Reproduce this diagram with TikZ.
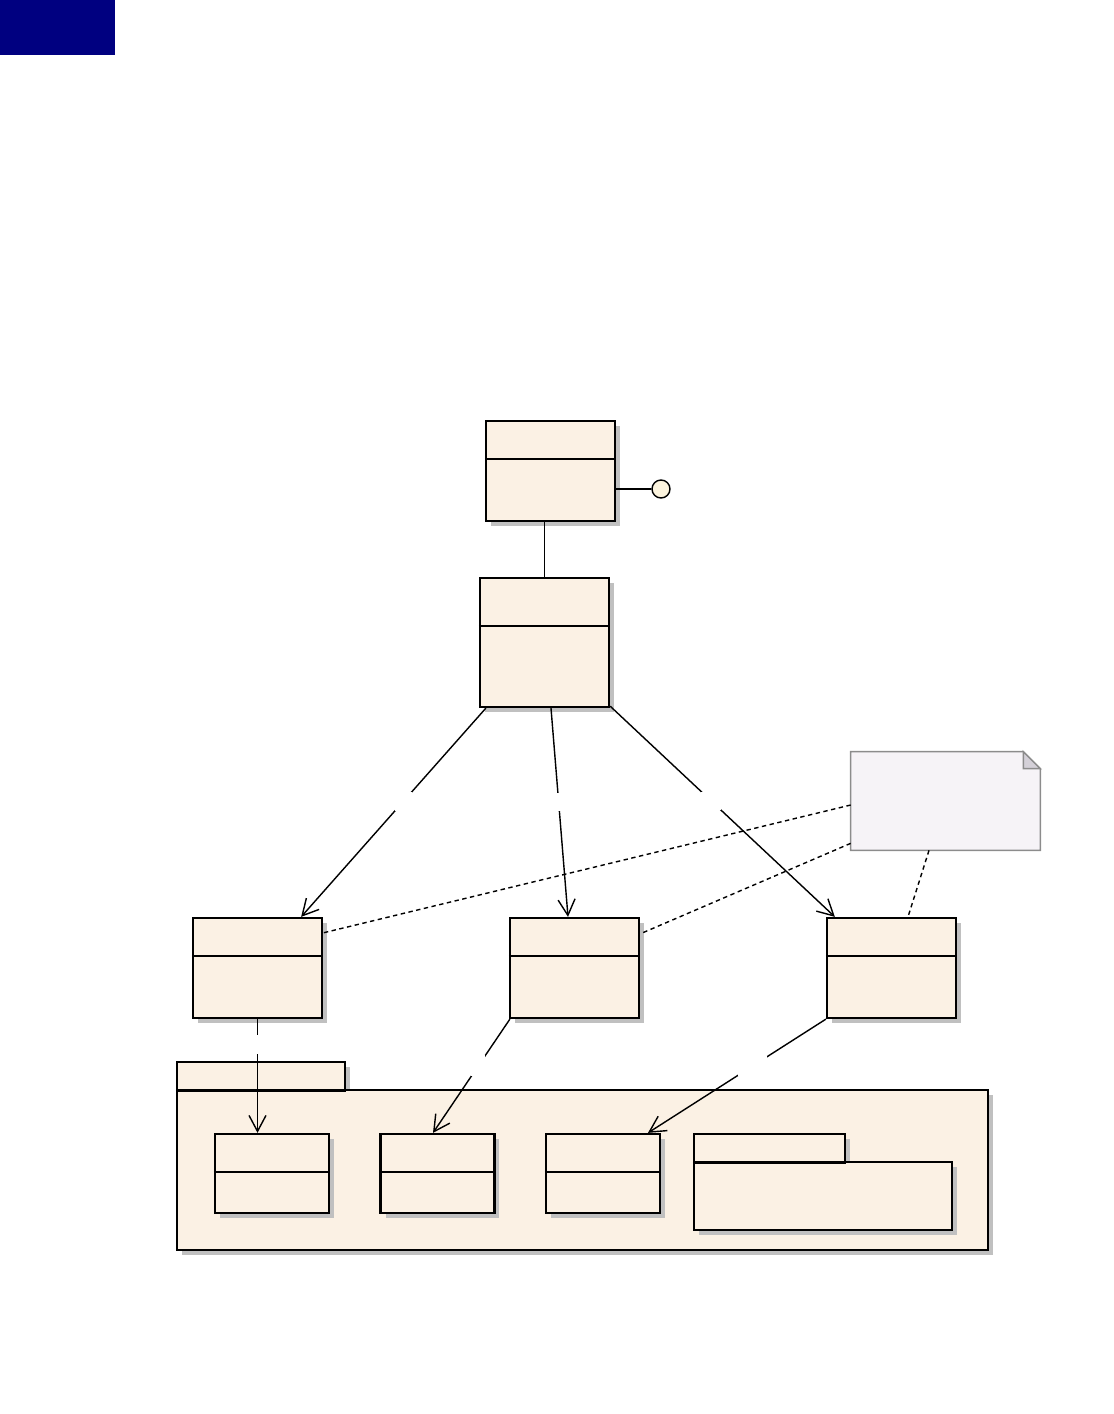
\documentclass[tikz,border=0pt]{standalone}
\usepackage{tikz}
\usetikzlibrary{positioning,arrows.meta,shadows,calc}

\definecolor{clase}{RGB}{251,241,228}
\definecolor{sombra}{RGB}{192,192,192}
\definecolor{nota}{RGB}{246,243,247}
\definecolor{notaborde}{RGB}{140,140,140}
\definecolor{pliegue}{RGB}{212,208,216}
\definecolor{interfaz}{RGB}{252,244,222}
\definecolor{marino}{RGB}{0,0,128}

\begin{document}
\begin{tikzpicture}[
    x=0.02cm, y=-0.02cm,
    block/.style={draw, line width=1.3pt, fill=clase, minimum width=2.58cm, minimum height=2cm, inner sep=0pt,
        drop shadow={shadow xshift=0.1cm, shadow yshift=-0.1cm, fill=sombra, opacity=1}},
    small/.style={block, minimum width=2.28cm, minimum height=1.58cm},
    div/.style={line width=1.3pt},
    arrow/.style={-{Straight Barb[length=3.2mm, width=3.4mm]}, line width=0.8pt},
    link/.style={line width=0.8pt, dash pattern=on 2.5pt off 2pt},
    gap/.style={fill=white, inner sep=0pt}
]
\useasboundingbox (0,0) rectangle (1114,1414);

% --- Marca superior ---
\node[fill=marino, minimum width=2.3cm, minimum height=1.1cm, inner sep=0pt] (marca) at (57.5,27.5) {};

% --- Clases superiores ---
\node[block] (top) at (550.5,471) {};
\node[block, minimum height=2.58cm] (mid) at (544.5,642.5) {};
\node[draw, circle, line width=0.8pt, fill=interfaz, minimum size=0.36cm, inner sep=0pt] (iface) at (661,489) {};

% --- Fila de clases ---
\node[block] (clsA) at (257.5,968) {};
\node[block] (clsB) at (574.5,968) {};
\node[block] (clsC) at (891.5,968) {};

% --- Paquete ---
\node[block, minimum width=3.36cm, minimum height=0.56cm] (tab) at (261,1076) {};
\node[block, minimum width=16.22cm, minimum height=3.2cm] (pkg) at (582.5,1170) {};
\node[small] (in1) at (272,1173.5) {};
\node[small] (in2) at (437.5,1173.5) {};
\node[small] (in3) at (603,1173.5) {};
\node[block, minimum width=3.02cm, minimum height=0.56cm] (subtab) at (769.5,1148) {};
\node[block, minimum width=5.16cm, minimum height=1.36cm] (subpkg) at (823,1196) {};
\draw[line width=0.8pt] (tab.south west) -- (tab.south east);
\draw[line width=0.8pt] (subtab.south west) -- (subtab.south east);

% --- Nota ---
\node[minimum width=3.78cm, minimum height=1.96cm, inner sep=0pt] (note) at (945.5,801) {};
\draw[draw=notaborde, fill=nota, line width=0.8pt] (note.north west) -- ([xshift=-0.34cm]note.north east)
    -- ([yshift=-0.34cm]note.north east) -- (note.south east) -- (note.south west) -- cycle;
\draw[draw=notaborde, fill=pliegue, line width=0.8pt] ([xshift=-0.34cm]note.north east)
    -- ([xshift=-0.34cm, yshift=-0.34cm]note.north east) -- ([yshift=-0.34cm]note.north east) -- cycle;

% --- Separadores de compartimentos ---
\foreach \c in {top,clsA,clsB,clsC}
    \draw[div] ([yshift=-0.78cm]\c.north west) -- ([yshift=-0.78cm]\c.north east);
\draw[div] ([yshift=-0.98cm]mid.north west) -- ([yshift=-0.98cm]mid.north east);
\foreach \c in {in1,in2,in3}
    \draw[div] ([yshift=-0.78cm]\c.north west) -- ([yshift=-0.78cm]\c.north east);

% --- Conexiones ---
\draw[line width=0.8pt] (mid.north |- top.south) -- (mid.north);
\draw[line width=1.1pt] ([yshift=-0.36cm]top.east) -- (iface.west);
\draw[arrow] ([xshift=0.14cm]mid.south west) -- ([xshift=-0.44cm]clsA.north east)
    node[gap, pos=0.445, minimum width=0.34cm, minimum height=0.38cm]{};
\draw[arrow] ([xshift=0.13cm]mid.south) -- ([xshift=-0.13cm]clsB.north)
    node[gap, pos=0.45, minimum width=0.3cm, minimum height=0.36cm]{};
\draw[arrow] ([yshift=0.04cm]mid.south east) -- ([xshift=0.18cm]clsC.north west)
    node[gap, pos=0.45, minimum width=0.4cm, minimum height=0.36cm]{};
\draw[arrow] (clsA.south) -- (clsA.south |- in1.north)
    node[gap, pos=0.22, minimum width=0.3cm, minimum height=0.38cm]{};
\draw[arrow] ([xshift=0.02cm]clsB.south west) -- ([xshift=-0.09cm]in2.north)
    node[gap, pos=0.41, minimum width=0.28cm, minimum height=0.42cm]{};
\draw[arrow] (clsC.south west) -- ([xshift=0.9cm]in3.north)
    node[gap, pos=0.41, minimum width=0.58cm, minimum height=0.4cm]{};

% --- Enlaces de la nota ---
\draw[link] ([yshift=-0.08cm]note.west) -- ([yshift=-0.32cm]clsA.north east);
\draw[link] ([yshift=0.14cm]note.south west) -- ([yshift=-0.34cm]clsB.north east);
\draw[link] ([xshift=-0.33cm]note.south) -- ([xshift=0.33cm]clsC.north);

\end{tikzpicture}
\end{document}
